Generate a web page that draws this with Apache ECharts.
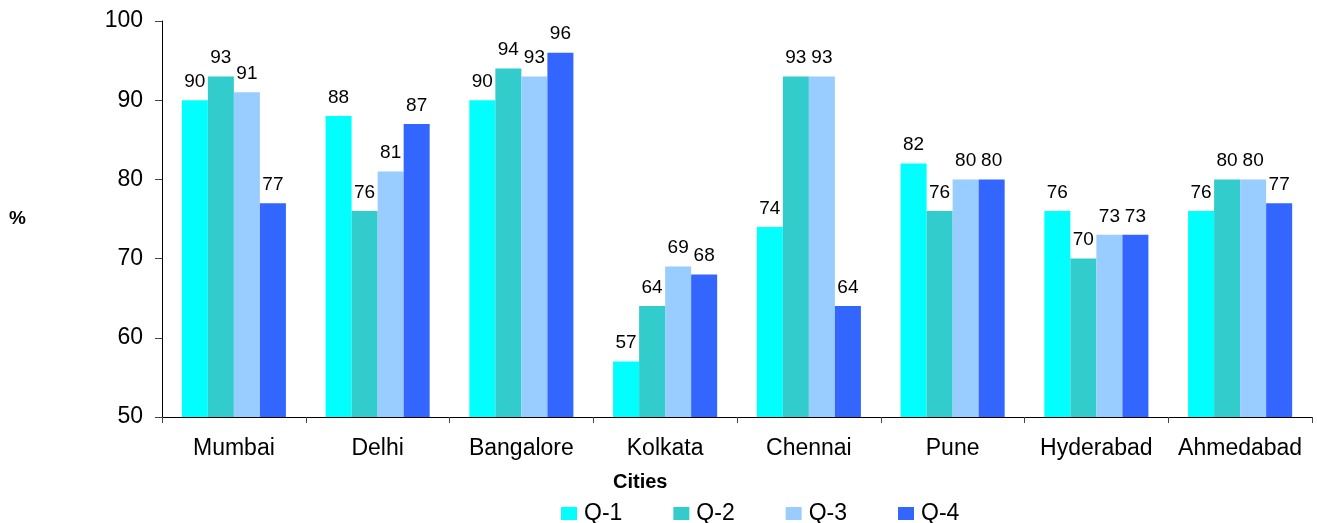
<!DOCTYPE html>
<html><head><meta charset="utf-8">
<script src="https://cdn.jsdelivr.net/npm/echarts@6/dist/echarts.min.js"></script>
<style>html,body{margin:0;padding:0;background:#fff}#c{width:1317px;height:523px}</style>
</head><body><div id="c"></div>
<script>
const cities = ["Mumbai","Delhi","Bangalore","Kolkata","Chennai","Pune","Hyderabad","Ahmedabad"];
const seriesNames = ["Q-1","Q-2","Q-3","Q-4"];
const q1 = [90,88,90,57,74,82,76,76];
const q2 = [93,76,94,64,93,76,70,80];
const q3 = [91,81,93,69,93,80,73,80];
const q4 = [77,87,96,68,64,80,73,77];
const colors = ["#00FFFF","#33CCCC","#99CCFF","#3366FF"];
const F = "'Liberation Sans', Arial, sans-serif";
const chart = echarts.init(document.getElementById('c'));
const mk = (name, data, color) => ({
  name, type:'bar', data, barGap:'0%', barCategoryGap:'27.6%',
  itemStyle:{color},
  label:{show:true, position:'top', distance:9, color:'#000', fontFamily:F, fontSize:19},
  emphasis:{disabled:true}
});
chart.setOption({
  animation:false,
  textStyle:{fontFamily:F},
  grid:{left:162, right:5, top:21, bottom:106, containLabel:false},
  xAxis:{type:'category', data:cities,
    axisLine:{lineStyle:{color:'#000', width:1}},
    axisTick:{show:true, interval:0, length:6, lineStyle:{color:'#444'}},
    axisLabel:{color:'#000', fontFamily:F, fontSize:23, margin:20, interval:0},
    splitLine:{show:false}},
  yAxis:{type:'value', min:50, max:100, interval:10,
    axisLine:{show:true, lineStyle:{color:'#000', width:1}},
    axisTick:{show:true, length:7, lineStyle:{color:'#444'}},
    axisLabel:{color:'#000', fontFamily:F, fontSize:23, margin:19},
    splitLine:{show:false}},
  legend:{data:seriesNames, left:556, top:497, itemWidth:16, itemHeight:13, itemGap:51,
    icon:'rect', textStyle:{color:'#000', fontFamily:F, fontSize:23, padding:[0,0,0,2]}},
  graphic:[
    {type:'text', left:9, top:209, style:{text:'%', font:"bold 19px 'Liberation Sans', Arial, sans-serif", fill:'#000'}},
    {type:'text', left:613, top:472, style:{text:'Cities', font:"bold 20px 'Liberation Sans', Arial, sans-serif", fill:'#000'}}
  ],
  series:[mk(seriesNames[0],q1,colors[0]),mk(seriesNames[1],q2,colors[1]),mk(seriesNames[2],q3,colors[2]),mk(seriesNames[3],q4,colors[3])]
});
</script></body></html>
